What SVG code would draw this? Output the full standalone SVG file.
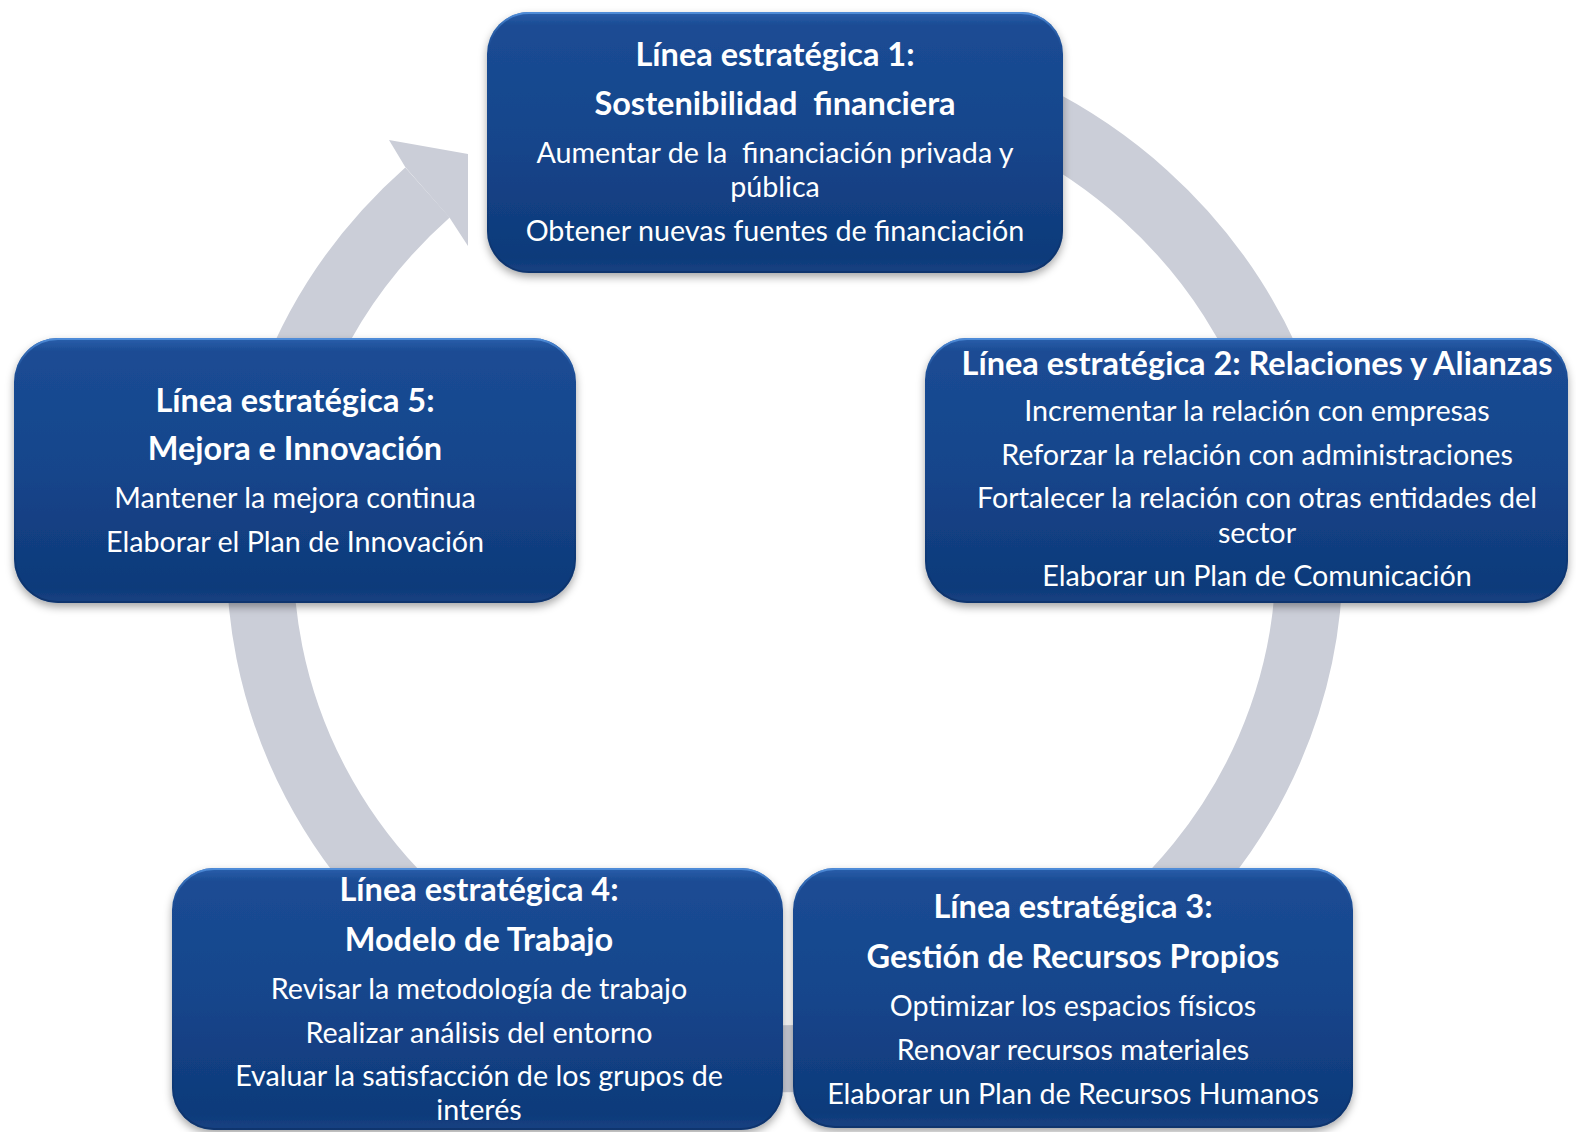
<svg xmlns="http://www.w3.org/2000/svg" width="1576" height="1132" viewBox="0 0 1576 1132">
<style>
.box{fill:url(#boxGrad);filter:url(#shadow)}
.rim{fill:none;stroke:url(#rimGrad);stroke-width:2}
.t{font-family:Lato,"Open Sans","Liberation Sans",sans-serif;fill:#ffffff;text-anchor:middle;white-space:pre}
.h{font-weight:bold;font-size:32.5px}
.b{font-size:28.7px}
.ring{fill:none;stroke:#CBCED8;stroke-width:67}
</style>
<defs>
<linearGradient id="boxGrad" x1="0" y1="0" x2="0" y2="1">
<stop offset="0" stop-color="#2A5FAC"/>
<stop offset="0.05" stop-color="#1B4C94"/>
<stop offset="0.5" stop-color="#15458B"/>
<stop offset="0.94" stop-color="#0F3A7A"/>
<stop offset="1" stop-color="#154282"/>
</linearGradient>
<linearGradient id="rimGrad" x1="0" y1="0" x2="0" y2="1">
<stop offset="0" stop-color="#4F8CD8"/>
<stop offset="0.15" stop-color="#1D55A0" stop-opacity="0"/>
<stop offset="1" stop-color="#0A2C60" stop-opacity="0.6"/>
</linearGradient>
<filter id="shadow" x="-10%" y="-10%" width="120%" height="130%">
<feDropShadow dx="0" dy="4" stdDeviation="4" flood-color="#000000" flood-opacity="0.35"/>
</filter>
</defs>
<rect width="1576" height="1132" fill="#ffffff"/>
<g id="connectors">
<path class="ring" d="M 520 127 A 524.5 500 0 1 1 427.5 192.5"/>
<polygon fill="#CBCED8" points="389,140 468,154 468,246 449.6,217.7 405.4,167.3"/>
</g>
<g id="node1">
<rect class="box" x="487" y="12" width="576" height="261" rx="42"/>
<rect class="rim" x="488" y="13" width="574" height="259" rx="41"/>
<text class="t h" x="775" y="66">Línea estratégica 1:</text>
<text class="t h" x="775" y="115">Sostenibilidad  financiera</text>
<text class="t b" x="775" y="163">Aumentar de la  financiación privada y</text>
<text class="t b" x="775" y="197">pública</text>
<text class="t b" x="775" y="241">Obtener nuevas fuentes de financiación</text>
</g>
<g id="node2">
<rect class="box" x="925" y="338" width="643" height="265" rx="42"/>
<rect class="rim" x="926" y="339" width="641" height="263" rx="41"/>
<text class="t h" x="1257" y="375">Línea estratégica 2: Relaciones y Alianzas</text>
<text class="t b" x="1257" y="421">Incrementar la relación con empresas</text>
<text class="t b" x="1257" y="465">Reforzar la relación con administraciones</text>
<text class="t b" x="1257" y="508">Fortalecer la relación con otras entidades del</text>
<text class="t b" x="1257" y="543">sector</text>
<text class="t b" x="1257" y="586">Elaborar un Plan de Comunicación</text>
</g>
<g id="node5">
<rect class="box" x="14" y="338" width="562" height="265" rx="44"/>
<rect class="rim" x="15" y="339" width="560" height="263" rx="43"/>
<text class="t h" x="295" y="412">Línea estratégica 5:</text>
<text class="t h" x="295" y="460">Mejora e Innovación</text>
<text class="t b" x="295" y="508">Mantener la mejora continua</text>
<text class="t b" x="295" y="552">Elaborar el Plan de Innovación</text>
</g>
<g id="node4">
<rect class="box" x="172" y="868" width="611" height="262" rx="42"/>
<rect class="rim" x="173" y="869" width="609" height="260" rx="41"/>
<text class="t h" x="479" y="901">Línea estratégica 4:</text>
<text class="t h" x="479" y="951">Modelo de Trabajo</text>
<text class="t b" x="479" y="999">Revisar la metodología de trabajo</text>
<text class="t b" x="479" y="1043">Realizar análisis del entorno</text>
<text class="t b" x="479" y="1086">Evaluar la satisfacción de los grupos de</text>
<text class="t b" x="479" y="1120">interés</text>
</g>
<g id="node3">
<rect class="box" x="793" y="868" width="560" height="260" rx="42"/>
<rect class="rim" x="794" y="869" width="558" height="258" rx="41"/>
<text class="t h" x="1073" y="918">Línea estratégica 3:</text>
<text class="t h" x="1073" y="968">Gestión de Recursos Propios</text>
<text class="t b" x="1073" y="1016">Optimizar los espacios físicos</text>
<text class="t b" x="1073" y="1060">Renovar recursos materiales</text>
<text class="t b" x="1073" y="1104">Elaborar un Plan de Recursos Humanos</text>
</g>
</svg>
